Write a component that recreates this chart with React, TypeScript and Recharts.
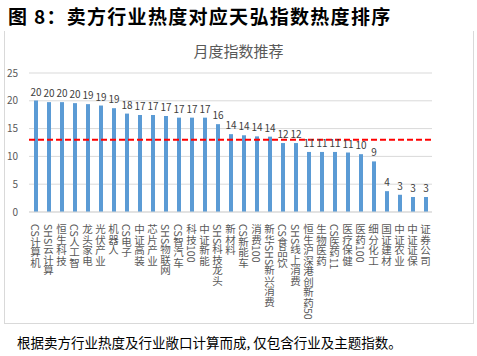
import React from "react";
import { BarChart, Bar, XAxis, YAxis, CartesianGrid, ReferenceLine, LabelList } from "recharts";

const categories = [
  "CS计算机", "SHS云计算", "恒生科技", "CS人工智", "龙头家电", "光伏产业", "机器人", "CS电子",
  "中证高装", "芯片产业", "SHS物联网", "CS智汽车", "科技100", "中证新能", "SHS科技龙头", "新材料",
  "CS新能车", "消费100", "新华SHS新兴消费", "CS食品饮", "SHS线上消费", "恒生沪深港创新药50",
  "生物医药", "CS医药11", "医疗保健", "医药100", "细分化工", "国证建材", "中证农业", "中证证保", "证券公司"
];

// heat score per index (labels show rounded value)
const heat = [
  20.05, 19.76, 19.76, 19.58, 19.4, 19.15, 18.67, 17.7, 17.45, 17.45, 17.27, 16.97, 16.97, 16.97, 15.8, 14.0,
  13.8, 13.6, 13.55, 12.4, 12.4, 10.8, 10.8, 10.8, 10.7, 10.4, 9.1, 3.75, 3.1, 2.7, 2.7
];

const yTicks = [0, 5, 10, 15, 20, 25];
const benchmark = 13;

const data = categories.map((name, i) => ({ name, heat: heat[i] }));

const FONT = "'Noto Sans CJK SC', 'Noto Sans', sans-serif";

function VerticalTick(props: any) {
  const { x, y, payload } = props;
  return (
    <text
      x={x}
      y={y + 4}
      fill="#595959"
      fontSize={10.5}
      fontFamily={FONT}
      textAnchor="start"
      style={{ writingMode: "vertical-rl" } as any}
    >
      {payload.value}
    </text>
  );
}

export default function App() {
  return (
    <div style={{ position: "fixed", left: 0, top: 0, width: 477, height: 356, background: "#fff", fontFamily: FONT }}>
      <div
        style={{
          position: "absolute",
          left: 8,
          top: 2,
          fontSize: 19,
          fontWeight: 700,
          color: "#000",
          whiteSpace: "nowrap",
          letterSpacing: 1.3
        }}
      >
        图 8：卖方行业热度对应天弘指数热度排序
      </div>
      <div
        style={{
          position: "absolute",
          left: 4,
          top: 31,
          width: 468,
          height: 292,
          borderLeft: "1px solid #d9d9d9",
          borderRight: "1px solid #d9d9d9",
          borderBottom: "1px solid #d9d9d9"
        }}
      />
      <div
        style={{
          position: "absolute",
          left: 0,
          width: 477,
          top: 40,
          textAlign: "center",
          fontSize: 15,
          color: "#595959"
        }}
      >
        月度指数推荐
      </div>
      <div style={{ position: "absolute", left: 0, top: 0 }}>
        <BarChart
          width={477}
          height={356}
          data={data}
          margin={{ top: 73, right: 45, left: 0, bottom: 34 }}
          barCategoryGap={0}
        >
          <CartesianGrid vertical={false} stroke="#d9d9d9" />
          <XAxis
            dataKey="name"
            interval={0}
            height={110}
            axisLine={{ stroke: "#d9d9d9" }}
            tickLine={false}
            tick={<VerticalTick />}
          />
          <YAxis
            width={29}
            domain={[0, 25]}
            ticks={yTicks}
            axisLine={false}
            tickLine={false}
            tickMargin={5}
            tick={{ fontSize: 10, fill: "#595959", fontFamily: FONT }}
          />
          <Bar dataKey="heat" fill="#5b9bd5" barSize={4} isAnimationActive={false}>
            <LabelList
              dataKey="heat"
              position="top"
              offset={5}
              formatter={(v: any) => Math.round(Number(v))}
              style={{ fontSize: 10, fill: "#404040", fontFamily: FONT }}
            />
          </Bar>
          <ReferenceLine y={benchmark} stroke="#ff0000" strokeWidth={2} strokeDasharray="6 3" />
        </BarChart>
      </div>
      <div
        style={{
          position: "absolute",
          left: 17,
          top: 332,
          fontSize: 13.5,
          color: "#000",
          whiteSpace: "nowrap"
        }}
      >
        根据卖方行业热度及行业敞口计算而成, 仅包含行业及主题指数。
      </div>
    </div>
  );
}
